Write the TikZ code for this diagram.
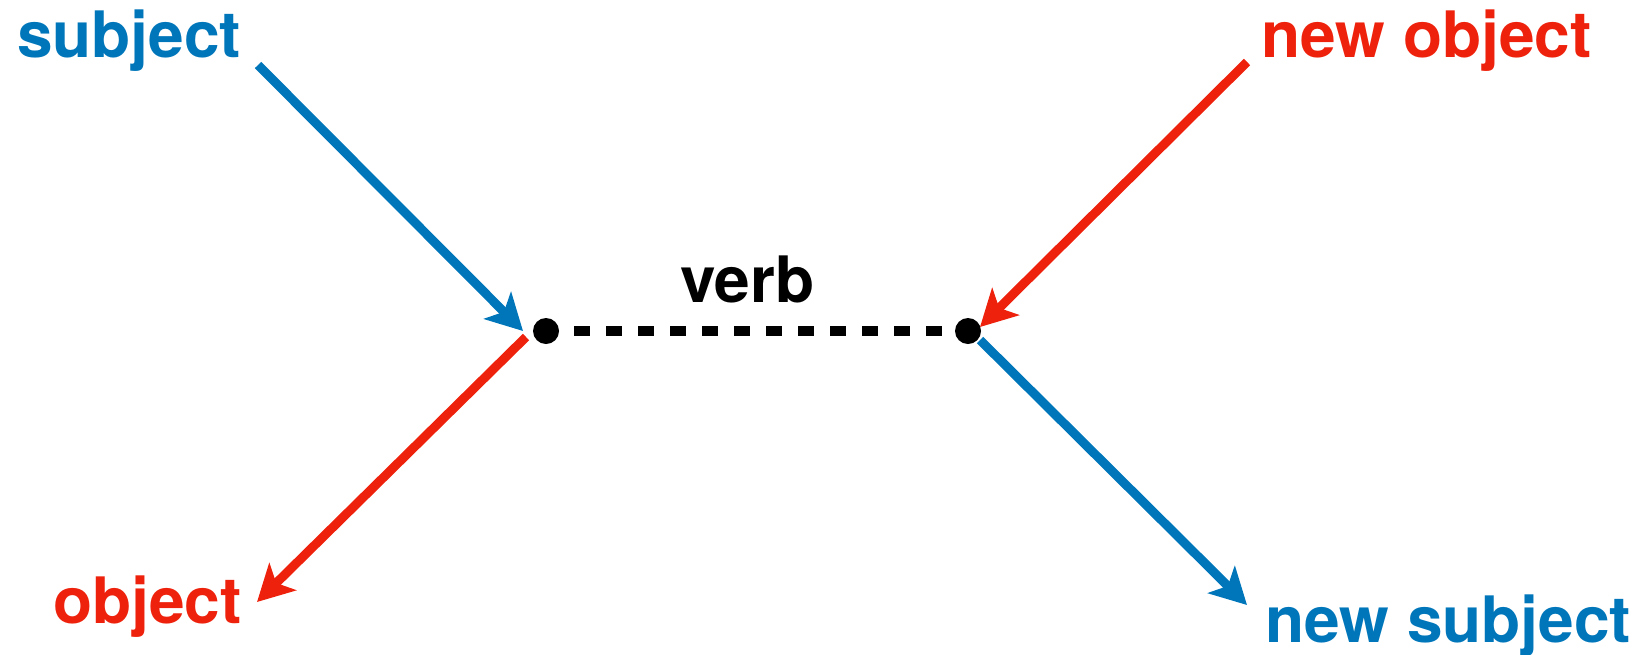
\documentclass[tikz,border=0pt]{standalone}
\usepackage{fontspec}
\setmainfont{TeX Gyre Heros}
\usetikzlibrary{arrows.meta}
\definecolor{subjblue}{RGB}{0,118,186}
\definecolor{objred}{RGB}{238,34,12}

\begin{document}
\begin{tikzpicture}[x=1pt, y=-1pt,
        word/.style={font=\fontsize{64}{64}\selectfont\bfseries, inner sep=0pt, anchor=base west},
        role/.style={line width=9pt, -{Stealth[length=36pt, width=38pt, inset=9pt]}},
        verbdot/.style={circle, fill=black, minimum size=26pt, inner sep=0pt}]
        \useasboundingbox (0, 0) rectangle (1646, 654);

        % VERB
        \node[verbdot] (vl) at (546, 331) {};
        \node[verbdot] (vr) at (968, 331) {};
        \node[word] (verb) at (680, 302) {verb};
        \draw[line width=10pt, dash pattern=on 16pt off 16pt, shorten <=15pt, shorten >=13pt] (vl) -- (vr);

        % WORDS
        \node[word, subjblue] (subj) at (17, 57) {subject};
        \node[word, objred] (obj) at (53, 623) {object};
        \node[word, objred] (nobj) at (1261, 57) {new object};
        \node[word, subjblue] (nsubj) at (1265, 642) {new subject};

        \coordinate (subj-out) at (258, 65);
        \coordinate (vl-in) at (523, 331);
        \coordinate (vl-out) at (526, 337);
        \coordinate (obj-in) at (257, 602);
        \coordinate (nobj-out) at (1247, 62);
        \coordinate (vr-in) at (980, 327);
        \coordinate (vr-out) at (980, 340);
        \coordinate (nsubj-in) at (1247, 605);

        % ARROWS
        \draw[role, subjblue] (subj-out) -- (vl-in);
        \draw[role, objred] (vl-out) -- (obj-in);
        \draw[role, objred] (nobj-out) -- (vr-in);
        \draw[role, subjblue] (vr-out) -- (nsubj-in);
\end{tikzpicture}
\end{document}
